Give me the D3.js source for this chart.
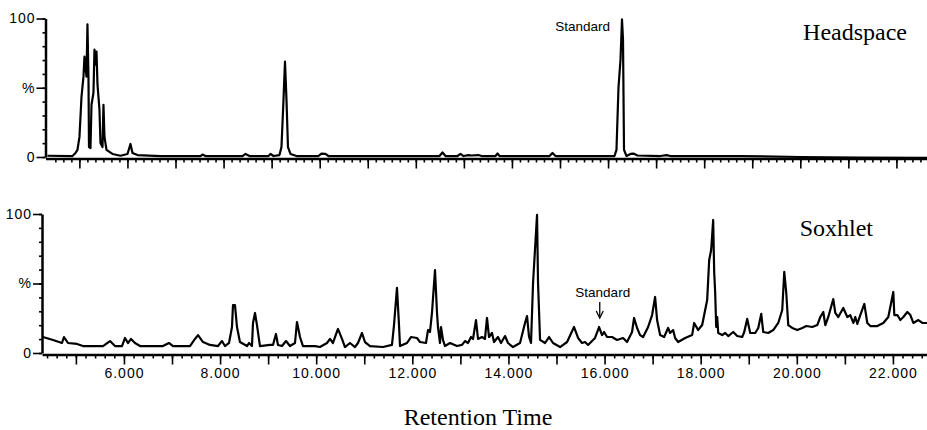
<!DOCTYPE html>
<html>
<head>
<meta charset="utf-8">
<script src="https://cdn.jsdelivr.net/npm/d3@7"></script>
<style>
  body { margin: 0; background: #fff; }
  svg { display: block; }
  .tick text { font-family: "Liberation Sans", Arial, sans-serif; font-size: 14px; letter-spacing: 1px; fill: #000; }
  .tick line { stroke: #000; stroke-width: 1.6; }
  .domain { stroke: #000; stroke-width: 2.5; }
  .trace { fill: none; stroke: #000; stroke-width: 2.2; stroke-linejoin: round; }
  .title { font-family: "Liberation Serif", "Times New Roman", serif; font-size: 24px; fill: #000; }
  .note { font-family: "Liberation Sans", Arial, sans-serif; font-size: 13.5px; fill: #000; }
</style>
</head>
<body>
<script>
var WIDTH = 927,
    HEIGHT = 430;

// retention time (min) axis labels
var xTickLabels = [6, 8, 10, 12, 14, 16, 18, 20, 22];

// [time, %]
var headspace = [
    [4.336, 0.9], [4.856, 0.7], [4.919, 2.9], [4.960, 5.1], [5.002, 14.5], [5.044, 43.5],
    [5.085, 58.0], [5.106, 72.5], [5.148, 58.0], [5.168, 95.7], [5.189, 58.0], [5.200, 7.2],
    [5.231, 6.5], [5.252, 37.7], [5.293, 46.4], [5.314, 77.5], [5.335, 66.7], [5.356, 76.1],
    [5.377, 52.2], [5.418, 34.1], [5.439, 10.1], [5.481, 7.2], [5.501, 37.7], [5.522, 14.5],
    [5.564, 5.1], [5.689, 2.2], [5.855, 0.9], [6.001, 2.2], [6.063, 9.4], [6.105, 2.9],
    [6.209, 1.4], [6.688, 0.7], [7.520, 0.7], [7.561, 1.8], [7.624, 0.7], [8.394, 0.7],
    [8.456, 2.2], [8.539, 0.7], [8.935, 0.7], [8.976, 2.2], [9.039, 0.7], [9.163, 1.4],
    [9.205, 7.2], [9.247, 41.3], [9.278, 68.8], [9.309, 41.3], [9.340, 7.2], [9.392, 2.2],
    [9.517, 0.7], [9.975, 0.7], [10.037, 2.5], [10.120, 2.2], [10.183, 0.7], [12.493, 0.7],
    [12.555, 3.3], [12.618, 0.7], [12.867, 0.7], [12.930, 2.2], [12.992, 0.7], [13.096, 1.4],
    [13.158, 1.1], [13.304, 1.4], [13.367, 0.7], [13.658, 0.7], [13.700, 2.5], [13.741, 0.7],
    [14.782, 0.7], [14.844, 2.9], [14.906, 0.7], [16.134, 0.7], [16.175, 5.1], [16.217, 50.0],
    [16.259, 70.3], [16.290, 99.3], [16.311, 84.8], [16.332, 5.1], [16.384, 0.7], [16.467, 2.2],
    [16.529, 2.5], [16.613, 1.1], [17.091, 0.7], [17.216, 1.4], [17.299, 0.7], [18.756, 0.7],
    [20.004, 0.0], [21.253, -0.4], [22.647, -0.7]
];

// [time, %]
var soxhlet = [
    [4.315, 11.5], [4.524, 9.4], [4.711, 7.2], [4.752, 11.5], [4.836, 7.2], [5.023, 6.5],
    [5.148, 5.0], [5.564, 5.0], [5.710, 8.6], [5.814, 5.0], [5.959, 5.0], [6.022, 10.8],
    [6.084, 7.2], [6.147, 10.1], [6.230, 7.2], [6.334, 5.0], [6.812, 5.0], [6.937, 7.2],
    [7.020, 5.0], [7.374, 5.0], [7.478, 10.1], [7.541, 12.9], [7.645, 7.9], [7.790, 5.8],
    [7.957, 5.0], [8.040, 8.6], [8.102, 5.0], [8.186, 7.2], [8.248, 18.7], [8.269, 34.5],
    [8.310, 34.5], [8.352, 18.7], [8.414, 7.9], [8.560, 5.0], [8.602, 7.2], [8.664, 5.0],
    [8.685, 21.6], [8.727, 28.8], [8.768, 20.1], [8.830, 5.0], [9.039, 5.8], [9.101, 5.8],
    [9.163, 13.7], [9.205, 5.8], [9.288, 5.0], [9.372, 8.6], [9.455, 5.0], [9.559, 7.2],
    [9.600, 22.3], [9.663, 11.5], [9.725, 5.0], [9.975, 5.0], [10.079, 4.3], [10.225, 7.2],
    [10.287, 10.1], [10.349, 7.2], [10.453, 17.3], [10.537, 10.1], [10.599, 4.3], [10.703, 7.2],
    [10.807, 4.3], [10.870, 7.2], [10.953, 14.4], [11.015, 7.9], [11.119, 5.0], [11.390, 4.3],
    [11.577, 5.8], [11.619, 20.1], [11.681, 46.8], [11.723, 20.1], [11.744, 5.0], [11.889, 7.2],
    [11.972, 11.5], [12.097, 10.8], [12.160, 7.9], [12.285, 7.2], [12.326, 16.5], [12.368, 15.1],
    [12.409, 28.8], [12.472, 59.7], [12.514, 28.8], [12.534, 18.7], [12.576, 7.2], [12.597, 18.7],
    [12.638, 9.4], [12.680, 5.0], [12.784, 7.2], [12.930, 5.0], [13.034, 5.8], [13.096, 8.6],
    [13.159, 7.2], [13.221, 11.5], [13.263, 10.1], [13.325, 23.7], [13.367, 10.1], [13.450, 11.5],
    [13.512, 10.1], [13.554, 25.2], [13.596, 11.5], [13.658, 14.4], [13.700, 7.9], [13.783, 11.5],
    [13.846, 7.2], [13.929, 12.2], [13.991, 7.2], [14.095, 4.3], [14.241, 7.2], [14.345, 21.6],
    [14.387, 26.6], [14.429, 11.5], [14.470, 7.2], [14.512, 50.4], [14.595, 99.3], [14.616, 50.4],
    [14.658, 9.4], [14.762, 7.2], [14.845, 11.5], [14.928, 7.2], [15.074, 4.3], [15.220, 7.9],
    [15.365, 18.7], [15.449, 10.8], [15.532, 7.2], [15.594, 7.9], [15.657, 5.8], [15.802, 10.8],
    [15.886, 18.7], [15.948, 12.9], [15.990, 15.1], [16.052, 11.5], [16.156, 11.5], [16.260, 9.4],
    [16.385, 10.8], [16.468, 7.9], [16.572, 15.1], [16.614, 25.2], [16.677, 18.0], [16.739, 12.9],
    [16.802, 11.5], [16.906, 18.7], [16.989, 27.3], [17.052, 40.3], [17.093, 23.7], [17.156, 12.9],
    [17.239, 11.5], [17.322, 18.0], [17.364, 14.4], [17.427, 16.5], [17.468, 10.8], [17.531, 7.9],
    [17.677, 10.8], [17.822, 12.9], [17.864, 21.6], [17.947, 16.5], [18.031, 20.1], [18.135, 38.1],
    [18.177, 66.9], [18.218, 74.1], [18.260, 95.7], [18.281, 58.3], [18.302, 43.2], [18.323, 18.7],
    [18.344, 25.9], [18.365, 14.4], [18.448, 12.9], [18.510, 14.4], [18.573, 12.2], [18.677, 15.1],
    [18.760, 12.2], [18.864, 11.5], [18.906, 15.1], [18.968, 24.5], [19.031, 14.4], [19.135, 14.4],
    [19.198, 18.0], [19.260, 28.1], [19.302, 15.1], [19.406, 14.4], [19.510, 16.5], [19.614, 21.6],
    [19.697, 30.9], [19.739, 58.3], [19.781, 43.2], [19.822, 20.1], [19.906, 18.0], [20.010, 16.5],
    [20.114, 18.0], [20.197, 19.4], [20.322, 18.7], [20.426, 20.1], [20.489, 25.9], [20.551, 29.5],
    [20.593, 20.1], [20.655, 25.9], [20.759, 38.8], [20.801, 28.8], [20.863, 25.9], [20.967, 32.4],
    [21.051, 25.9], [21.113, 27.3], [21.176, 21.6], [21.217, 25.9], [21.259, 20.9], [21.321, 27.3],
    [21.405, 35.3], [21.467, 21.6], [21.530, 19.4], [21.675, 19.4], [21.800, 21.6], [21.904, 25.9],
    [22.008, 43.9], [22.029, 27.3], [22.092, 27.3], [22.154, 23.7], [22.217, 25.9], [22.300, 29.5],
    [22.363, 27.3], [22.425, 21.6], [22.529, 23.7], [22.612, 21.6], [22.716, 21.6]
];

var standardTime = 16.29,     // headspace standard peak
    soxStandardTime = 15.90;  // soxhlet standard peak

var svg = d3.select('body').append('svg')
    .attr('width', WIDTH)
    .attr('height', HEIGHT);

var x = d3.scaleLinear()
    .domain([4.295, 22.709])
    .range([42, 927]);

function drawPanel(g, y, data, xMinor, withLabels) {
    // y axis: minor every 10, labelled 0 / % / 100
    g.append('g')
        .attr('transform', 'translate(' + x.range()[0] + ',0)')
        .call(d3.axisLeft(y).tickValues(d3.range(0, 101, 10)).tickSize(3).tickSizeOuter(0).tickFormat(''));
    g.append('g')
        .attr('transform', 'translate(' + x.range()[0] + ',0)')
        .call(d3.axisLeft(y).tickValues([0, 50, 100]).tickSize(9).tickSizeOuter(0).tickPadding(1)
            .tickFormat(d => d === 50 ? '%' : d))
        .call(a => a.select('.domain').remove());

    var base = y(0) + 1.5;
    g.append('g')
        .attr('transform', 'translate(0,' + base + ')')
        .call(d3.axisBottom(x).tickValues(xMinor).tickSize(4).tickSizeOuter(0).tickFormat(''));
    g.append('g')
        .attr('transform', 'translate(0,' + base + ')')
        .call(d3.axisBottom(x).tickValues(d3.range(5, 23, 1)).tickSize(10).tickSizeOuter(0).tickPadding(4)
            .tickFormat(d => withLabels && xTickLabels.indexOf(d) >= 0 ? d3.format('.3f')(d) : ''))
        .call(a => a.select('.domain').remove());

    var line = d3.line()
        .x(d => x(d[0]))
        .y(d => y(d[1]));

    g.append('path')
        .datum(data)
        .attr('class', 'trace')
        .attr('d', line);
}

// Headspace panel
var topY = d3.scaleLinear().domain([0, 100]).range([157, 18.5]);
var topPanel = svg.append('g').attr('transform', 'translate(3.5,0)');
drawPanel(topPanel, topY, headspace, d3.range(4.5, 22.8, 1 / 6), false);

topPanel.append('text')
    .attr('class', 'note')
    .attr('x', x(standardTime) - 12)
    .attr('y', 31)
    .attr('text-anchor', 'end')
    .text('Standard');

svg.append('text')
    .attr('class', 'title')
    .attr('x', 907)
    .attr('y', 40)
    .attr('text-anchor', 'end')
    .text('Headspace');

// Soxhlet panel
var botY = d3.scaleLinear().domain([0, 100]).range([353, 214]);
var botPanel = svg.append('g');
drawPanel(botPanel, botY, soxhlet, d3.range(4.4, 22.8, 0.2), true);

botPanel.append('text')
    .attr('class', 'note')
    .attr('x', x(soxStandardTime) + 3)
    .attr('y', 297)
    .attr('text-anchor', 'middle')
    .text('Standard');

var ax = x(soxStandardTime);
botPanel.append('line')
    .attr('x1', ax).attr('x2', ax)
    .attr('y1', 302).attr('y2', 316)
    .attr('stroke', '#000').attr('stroke-width', 1.3);
botPanel.append('path')
    .attr('d', 'M' + (ax - 3.5) + ',311L' + ax + ',318L' + (ax + 3.5) + ',311')
    .attr('fill', 'none').attr('stroke', '#000').attr('stroke-width', 1.3);

svg.append('text')
    .attr('class', 'title')
    .attr('x', 873)
    .attr('y', 236)
    .attr('text-anchor', 'end')
    .text('Soxhlet');

svg.append('text')
    .attr('class', 'title')
    .attr('x', 478)
    .attr('y', 425)
    .attr('text-anchor', 'middle')
    .text('Retention Time');
</script>
</body>
</html>
